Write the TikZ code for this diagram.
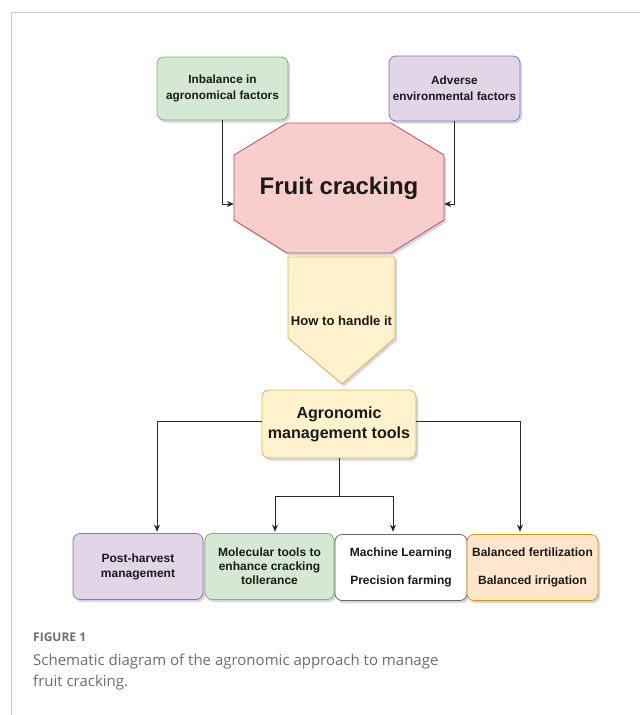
\documentclass[tikz,border=0pt]{standalone}
\usepackage{fontspec}
\setmainfont{Liberation Sans}
\newfontfamily\capfont{Open Sans}
\usetikzlibrary{shadows,arrows.meta,calc}
\definecolor{gfill}{HTML}{D5E8D4}\definecolor{gdraw}{HTML}{82B366}
\definecolor{pfill}{HTML}{E1D5E7}\definecolor{pdraw}{HTML}{9673A6}
\definecolor{rfill}{HTML}{F8CECC}\definecolor{rdraw}{HTML}{B85450}
\definecolor{yfill}{HTML}{FFF2CC}\definecolor{ydraw}{HTML}{D6B656}
\definecolor{ofill}{HTML}{FFE6CC}\definecolor{odraw}{HTML}{D79B00}
\definecolor{wdraw}{HTML}{666666}
\definecolor{txt}{HTML}{1A1A1A}
\definecolor{capc}{HTML}{6E6E6E}
\definecolor{framec}{HTML}{C8C8C8}
\tikzset{
  shad/.style={drop shadow={shadow xshift=2pt,shadow yshift=-2.5pt,opacity=0.25,fill=gray!70!blue}},
  box/.style={rounded corners=7pt,line width=0.8pt,align=center,text=txt,
    font=\bfseries\fontsize{11.8}{16}\selectfont,inner sep=0pt,shad},
  arr/.style={-{Stealth[length=7pt,width=6pt]},line width=0.8pt,black!85},
  ln/.style={line width=0.8pt,black!85}
}
\begin{document}
\begin{tikzpicture}[x=1pt,y=-1pt]
\useasboundingbox (0,0) rectangle (640,715);
\fill[white] (0,0) rectangle (640,715);
\draw[framec,line width=0.8pt] (11,715) -- (11,12) -- (640,12);

% top boxes
\node[box,fill=gfill,draw=gdraw,minimum width=131pt,minimum height=63pt] (inb) at (222.5,88.5) {Inbalance in\\agronomical factors};
\node[box,fill=pfill,draw=pdraw,minimum width=131pt,minimum height=65pt] (adv) at (454.5,88.5) {Adverse\\environmental factors};

% octagon
\draw[fill=rfill,draw=rdraw,line width=0.8pt,shad] (287,123) -- (391,123) -- (444,155) -- (444,220) -- (391,253) -- (287,253) -- (234,220) -- (234,155) -- cycle;
\node[minimum width=210pt,minimum height=130pt,inner sep=0pt,text=txt,font=\bfseries\fontsize{24}{28}\selectfont] (oct) at (339,188) {Fruit cracking};

% pentagon arrow
\draw[fill=yfill,draw=ydraw,line width=0.8pt,shad] (288,257) -- (395,257) -- (395,338) -- (342,384) -- (288,338) -- cycle;
\node[text=txt,font=\bfseries\fontsize{13.1}{15}\selectfont,inner sep=0pt] (how) at (341.5,321) {How to handle it};

% agronomic
\node[box,fill=yfill,draw=ydraw,minimum width=154pt,minimum height=68pt,font=\bfseries\fontsize{16.1}{20}\selectfont] (agro) at (339,424) {Agronomic\\management tools};

% bottom boxes
\node[box,fill=pfill,draw=pdraw,minimum width=130pt,minimum height=66pt,font=\bfseries\fontsize{12}{15}\selectfont] (pm) at (138,566.5) {Post-harvest\\management};
\node[box,fill=gfill,draw=gdraw,minimum width=129pt,minimum height=66pt,font=\bfseries\fontsize{12}{14}\selectfont] (mol) at (269.5,566.5) {Molecular tools to\\enhance cracking\\tollerance};
\node[box,fill=white,draw=wdraw,minimum width=132pt,minimum height=66pt,font=\bfseries\fontsize{12}{28}\selectfont] (ml) at (401,567.5) {Machine Learning\\Precision farming};
\node[box,fill=ofill,draw=odraw,minimum width=131pt,minimum height=66pt,font=\bfseries\fontsize{12}{28}\selectfont] (bal) at (532.5,567.5) {Balanced fertilization\\Balanced irrigation};

% connectors
\draw[arr] (inb.south) |- ([yshift=-16pt]oct.west);
\draw[arr] (adv.south) |- ([yshift=-16pt]oct.east);
\draw[arr] ([yshift=3pt]agro.west) -| ([xshift=19pt,yshift=1.5pt]pm.north);
\draw[arr] ([yshift=3pt]agro.east) -| ([xshift=-12.5pt,yshift=2.5pt]bal.north);
\coordinate (split) at (339,496);
\draw[ln] (agro.south) -- (split);
\draw[arr] (split) -| ([xshift=5.5pt,yshift=1.5pt]mol.north);
\draw[arr] (split) -| ([xshift=-8pt,yshift=2.5pt]ml.north);

% caption
\node[anchor=base west,inner sep=0pt,text=capc,font=\capfont\bfseries\fontsize{12}{14}\selectfont] (fig) at (33,641) {FIGURE 1};
\node[anchor=base west,inner sep=0pt,text=capc,font=\capfont\fontsize{15}{21}\selectfont,align=left] (cap) at (33,686) {Schematic diagram of the agronomic approach to manage\\fruit cracking.};
\end{tikzpicture}
\end{document}
